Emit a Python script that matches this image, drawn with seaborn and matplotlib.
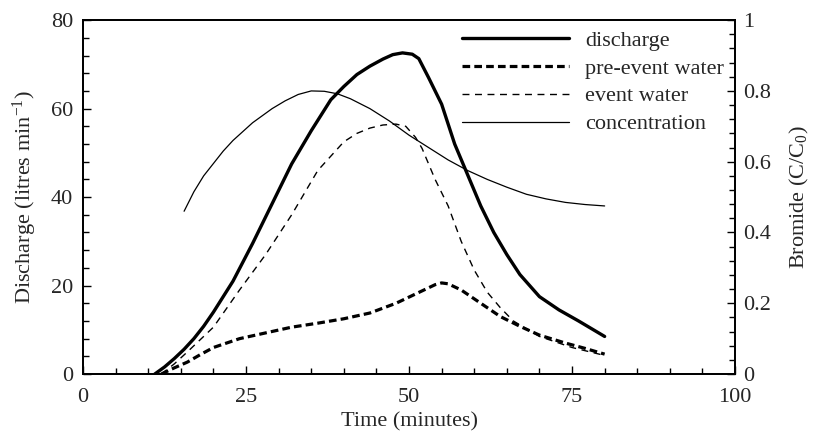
import numpy as np
import pandas as pd
import matplotlib
matplotlib.use("Agg")
import matplotlib.pyplot as plt
import seaborn as sns
from matplotlib.ticker import MultipleLocator, FuncFormatter

# values
dis_t = [11, 12.5, 14, 15.5, 17, 18.5, 20, 23, 26, 29, 32, 35, 38, 40, 42, 44, 46, 47.5, 49, 50.5, 51.5,
         53, 55, 57, 59, 61, 63, 65, 67, 70, 73, 76, 80]
dis_q = [0, 1.6, 3.5, 5.6, 8, 10.8, 14, 21, 29.5, 38.5, 47.5, 55, 62, 65, 67.7, 69.6, 71.2, 72.2, 72.6, 72.3, 71.3,
         67, 61, 52, 45, 38, 32, 27, 22.5, 17.5, 14.5, 12, 8.5]

pre_t = [12, 14, 16, 18, 20, 24, 28, 32, 36, 40, 44, 48, 52, 54, 55, 56, 58, 61, 64, 67, 70, 74, 77, 80]
pre_q = [0, 1.4, 2.7, 4.4, 6.0, 8, 9.3, 10.6, 11.5, 12.5, 13.8, 16, 18.8, 20.2, 20.6, 20.4, 19, 16, 13, 10.8, 8.8, 7, 5.8, 4.5]

evt_t = [12, 14, 16, 18, 20, 24, 28, 32, 36, 40, 42, 44, 46, 48, 49.5, 51, 52, 54, 56, 58, 60, 62, 64, 66, 70, 75, 80]
evt_q = [0, 2.3, 5, 7.8, 10.6, 19, 27, 36, 46, 52.5, 54.4, 55.6, 56.3, 56.5, 56.0, 53.5, 51, 44, 38, 30, 23.5, 18.5, 15, 12, 8.5, 6, 4.2]

con_t = [15.5, 17, 18.5, 20, 21.5, 23, 24.5, 26, 27.5, 29, 31, 33, 35, 37, 39, 41, 44, 47, 50, 53, 56, 59,
         62, 65, 68, 71, 74, 77, 80]
con_c = [0.46, 0.515, 0.56, 0.595, 0.63, 0.66, 0.685, 0.71, 0.73, 0.75, 0.772, 0.79, 0.8, 0.799, 0.792, 0.778,
         0.75, 0.715, 0.675, 0.64, 0.605, 0.575, 0.55, 0.528, 0.508, 0.495, 0.485, 0.479, 0.475]

sns.set_style("ticks")
plt.rcParams['font.family'] = ['Liberation Serif', 'DejaVu Serif']
plt.rcParams['mathtext.default'] = 'regular'
plt.rcParams['font.size'] = 16

fig = plt.figure(figsize=(8.14, 4.38), dpi=100)
ax = fig.add_axes([0.102, 0.146, 0.801, 0.808])
ax2 = ax.twinx()

sns.lineplot(x=dis_t, y=dis_q, ax=ax, color='black', lw=2.4, label='discharge', legend=False)
sns.lineplot(x=pre_t, y=pre_q, ax=ax, color='black', lw=2.3, label='pre-event water', legend=False)
sns.lineplot(x=evt_t, y=evt_q, ax=ax, color='black', lw=1.0, label='event water', legend=False)
sns.lineplot(x=con_t, y=con_c, ax=ax2, color='black', lw=0.9, label='concentration', legend=False)
ax.lines[1].set_dashes((2.4, 1.3))
ax.lines[2].set_dashes((5, 4))

ax.set_xlim(0, 100)
ax.set_ylim(0, 80)
ax2.set_ylim(0, 1)
ax.xaxis.set_major_locator(MultipleLocator(25))
ax.xaxis.set_minor_locator(MultipleLocator(5))
ax.yaxis.set_major_locator(MultipleLocator(20))
ax.yaxis.set_minor_locator(MultipleLocator(4))
ax2.yaxis.set_major_locator(MultipleLocator(0.2))
ax2.yaxis.set_minor_locator(MultipleLocator(0.04))
ax2.yaxis.set_major_formatter(FuncFormatter(lambda v, p: '0' if abs(v) < 1e-9 else ('1' if abs(v - 1) < 1e-9 else f'{v:.1f}')))

for a in (ax, ax2):
    a.tick_params(which='both', direction='in', labelsize=16, width=1, color='black')
    a.tick_params(which='major', length=6)
    a.tick_params(which='minor', length=4)
    for s in a.spines.values():
        s.set_linewidth(1.3)
        s.set_color('black')
ax.tick_params(axis='y', right=False, pad=7)
ax.tick_params(axis='x', pad=10)
ax2.tick_params(axis='y', left=False, pad=6)

ax.set_xlabel('Time (minutes)', fontsize=16, labelpad=4)
ax.set_ylabel('Discharge (litres min$^{-1}$)', fontsize=16, labelpad=9)
ax2.set_ylabel('Bromide (C/C$_0$)', fontsize=16, labelpad=12)

h1, l1 = ax.get_legend_handles_labels()
h2, l2 = ax2.get_legend_handles_labels()
ax2.legend(h1 + h2, l1 + l2, loc='upper left', bbox_to_anchor=(0.581, 0.972), frameon=False,
           handlelength=4.8, fontsize=16, labelspacing=0.33, handletextpad=0.75, borderaxespad=0, borderpad=0)

fig.savefig('out.png', dpi=100)
